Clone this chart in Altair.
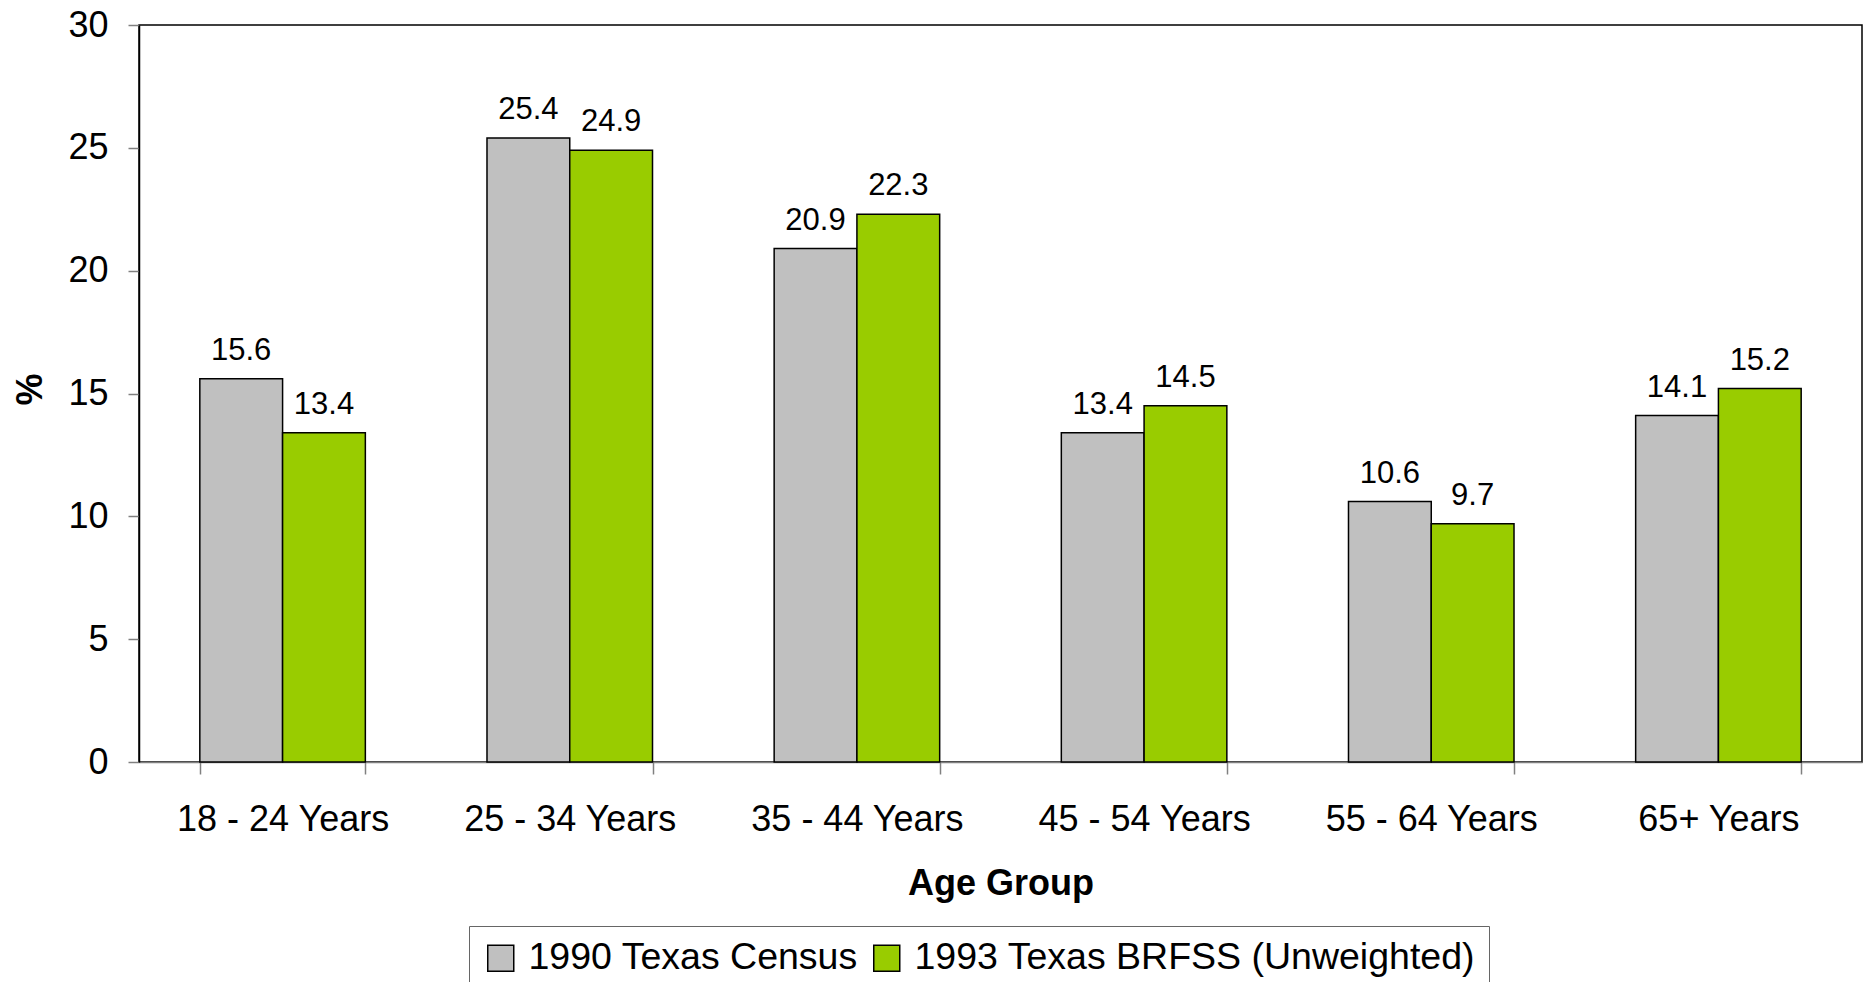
import altair as alt
import pandas as pd

age_groups = ["18 - 24 Years", "25 - 34 Years", "35 - 44 Years",
              "45 - 54 Years", "55 - 64 Years", "65+ Years"]
series_names = ["1990 Texas Census", "1993 Texas BRFSS (Unweighted)"]
census_1990 = [15.6, 25.4, 20.9, 13.4, 10.6, 14.1]
brfss_1993 = [13.4, 24.9, 22.3, 14.5, 9.7, 15.2]
series_colors = ["#C0C0C0", "#99CC00"]
y_ticks = [0, 5, 10, 15, 20, 25, 30]

rows = []
for i, g in enumerate(age_groups):
    rows.append({"group": g, "series": series_names[0], "value": census_1990[i]})
    rows.append({"group": g, "series": series_names[1], "value": brfss_1993[i]})
df = pd.DataFrame(rows)
df["label"] = df["value"].map(lambda v: f"{v:.1f}")

FONT = "Liberation Sans"

x = alt.X(
    "group:N", sort=age_groups,
    scale=alt.Scale(paddingInner=0.4236, paddingOuter=0.2118),
    axis=alt.Axis(
        title="Age Group", labelAngle=0, labelFontSize=36, labelFont=FONT,
        labelColor="black", labelPadding=28, tickSize=12, tickColor="#808080",
        tickWidth=1.5, tickBand="extent", domainColor="#808080", domainWidth=1.5,
        titleFont=FONT, titleFontSize=36, titleFontWeight="bold", titleColor="black",
        titleY=121, titleBaseline="middle", labelLimit=0,
    ),
)
y = alt.Y(
    "value:Q",
    scale=alt.Scale(domain=[0, 30]),
    axis=alt.Axis(
        title="%", values=y_ticks, grid=False, labelFontSize=36, labelFont=FONT,
        labelColor="black", labelPadding=20, tickSize=11, tickColor="#808080",
        tickWidth=1.5, domainColor="black", domainWidth=1.5,
        titleFont=FONT, titleFontSize=36, titleFontWeight="bold", titleColor="black",
        titleAngle=270, titleX=-109, titleY=364, titleAlign="center",
        titleBaseline="middle",
    ),
)
xoff = alt.XOffset("series:N", sort=series_names,
                   scale=alt.Scale(paddingInner=0, paddingOuter=0))
color = alt.Color(
    "series:N",
    scale=alt.Scale(domain=series_names, range=series_colors),
    legend=alt.Legend(
        title=None, orient="none", legendX=330, legendY=901,
        direction="horizontal", symbolType="square", symbolSize=676,
        symbolStrokeColor="black", symbolStrokeWidth=1.5, labelFontSize=37.5,
        labelFont=FONT, labelColor="black", padding=13, strokeColor="#666666",
        fillColor="white", columnPadding=10, labelOffset=9, labelLimit=0,
    ),
)

bars = alt.Chart(df).mark_bar(stroke="black", strokeWidth=1.5).encode(
    x=x, y=y, xOffset=xoff, color=color
)
labels = alt.Chart(df).mark_text(
    dy=-19, baseline="alphabetic", fontSize=31, font=FONT, color="black"
).encode(x=x, y=y, xOffset=xoff, text="label:N")

chart = (
    alt.layer(bars, labels)
    .properties(
        width=1723, height=737,
        autosize=alt.AutoSizeParams(type="none"),
        padding={"left": 131, "top": 17, "right": 1, "bottom": 220},
    )
    .configure_view(stroke="black", strokeWidth=1.5)
)

chart.save("out.html", embed_options={"renderer": "svg", "actions": False})
